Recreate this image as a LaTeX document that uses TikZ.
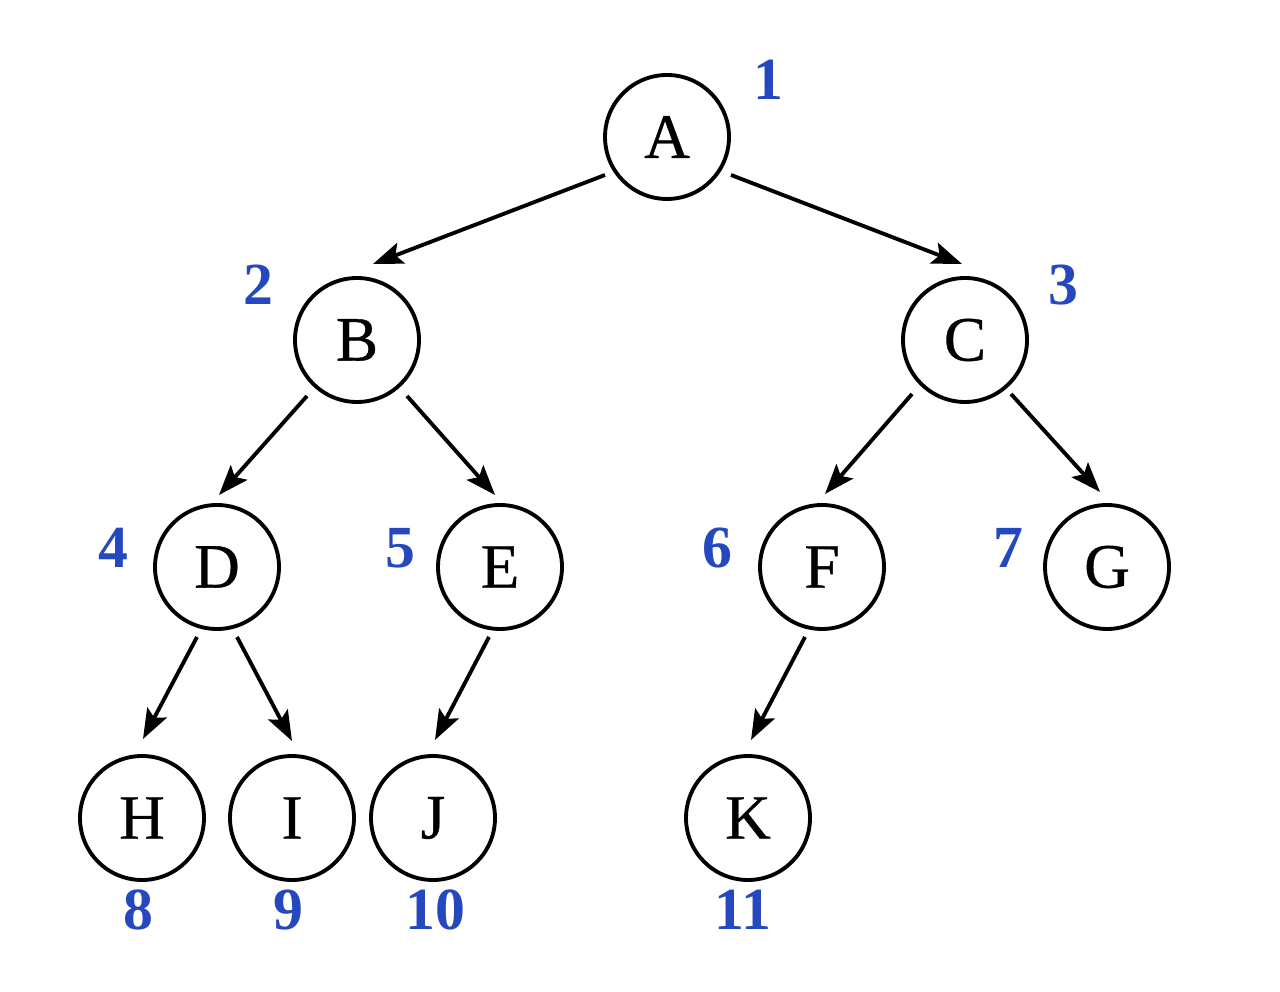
\documentclass[tikz,border=0pt]{standalone}
\usepackage{fontspec}
\setmainfont{Liberation Serif}
\newfontfamily\letterfont[FakeBold=0.6]{Liberation Serif}
\usetikzlibrary{arrows.meta}
\definecolor{idxblue}{RGB}{38,72,190}
\tikzset{
    vertex/.style={circle, draw=black, line width=1.1pt, minimum size=1.24cm, inner sep=0pt, font=\letterfont\fontsize{18}{21}\selectfont},
    idx/.style={text=idxblue, font=\fontsize{17}{20}\selectfont\bfseries},
    edge/.style={line width=1.1pt, -{Stealth[length=0.3cm, width=0.22cm, inset=0.06cm]}}
}
\begin{document}
\begin{tikzpicture}
    \useasboundingbox (0,0) rectangle (12.8,9.91);
    \node[vertex] (A) at (6.67,8.54) {A};
    \node[vertex] (B) at (3.57,6.51) {B};
    \node[vertex] (C) at (9.65,6.51) {C};
    \node[vertex] (D) at (2.17,4.24) {D};
    \node[vertex] (E) at (5.00,4.24) {E};
    \node[vertex] (F) at (8.22,4.24) {F};
    \node[vertex] (G) at (11.07,4.24) {G};
    \node[vertex] (H) at (1.42,1.73) {H};
    \node[vertex] (I) at (2.92,1.73) {I};
    \node[vertex] (J) at (4.33,1.73) {J};
    \node[vertex] (K) at (7.48,1.73) {K};
    % level-order numbers
    \node[idx] (nA) at (7.68,9.11) {1};
    \node[idx] (nB) at (2.58,7.06) {2};
    \node[idx] (nC) at (10.63,7.06) {3};
    \node[idx] (nD) at (1.13,4.43) {4};
    \node[idx] (nE) at (4.00,4.43) {5};
    \node[idx] (nF) at (7.17,4.43) {6};
    \node[idx] (nG) at (10.08,4.43) {7};
    \node[idx] (nH) at (1.38,0.81) {8};
    \node[idx] (nI) at (2.88,0.81) {9};
    \node[idx] (nJ) at (4.35,0.81) {10};
    \node[idx] (nK) at (7.43,0.81) {11};
    % parent/offset/child/offset
    \foreach \u/\su/\v/\sv in {A/{-0.62,-0.38}/B/{0.16,0.76}, A/{0.64,-0.38}/C/{-0.03,0.76},
            B/{-0.50,-0.56}/D/{0.02,0.72}, B/{0.50,-0.56}/E/{-0.05,0.72},
            C/{-0.53,-0.54}/F/{0.03,0.73}, C/{0.46,-0.54}/G/{-0.07,0.75},
            D/{-0.20,-0.70}/H/{0.01,0.79}, D/{0.20,-0.70}/I/{0,0.77},
            E/{-0.11,-0.70}/J/{0.02,0.78}, F/{-0.17,-0.70}/K/{0.03,0.78}}
        \draw[edge] ([shift={(\su)}]\u.center) -- ([shift={(\sv)}]\v.center);
\end{tikzpicture}
\end{document}
